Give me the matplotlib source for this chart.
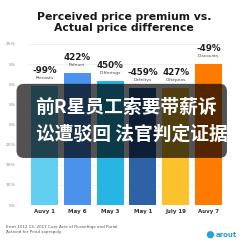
import matplotlib
matplotlib.use("Agg")
import matplotlib.pyplot as plt
from matplotlib.patches import FancyBboxPatch, Circle

# data (heights in gridline units)
categories = ["Auvy 1", "May 6", "May 3", "May 1", "July 19", "Auvy 7"]
heights = [5.9, 6.55, 6.15, 5.8, 5.8, 7.0]
value_labels = ["-99%", "422%", "450%", "-459%", "427%", "-49%"]
sub_labels = ["Precasts", "Pofeurs", "Differings", "Defnitys", "Ciltepeos", "Discounts"]
colors = ["#63cff0", "#4a92ea", "#27b5e3", "#2d62a6", "#fcc22e", "#ff7b00"]
ytick_labels = ["0%", "15%", "10%", "25%", "5%", "5%", "5%", "5%", "15%"]

title = "Perceived price premium vs.\nActual price difference"
overlay_lines = ["前R星员工索要带薪诉", "讼遭驳回 法官判定证据"]
footer = "Errot 1012 13, 2017 Cuer Acts of Rcoseftige and Parial\nActived for Prvid sopropoly"

fig = plt.figure(figsize=(2.43, 2.43), dpi=100)
fig.patch.set_facecolor("white")

ax = fig.add_axes([0.115, 0.156, 0.811, 0.663])
x = range(len(categories))
ax.bar(x, heights, width=0.82, color=colors, zorder=3)
ax.set_xlim(-0.5, len(categories) - 0.5)
ax.set_ylim(0, 8)
ax.set_yticks(range(9))
ax.set_yticklabels(ytick_labels, fontsize=3.2, color="#888888")
ax.set_xticks(list(x))
ax.set_xticklabels(categories, fontsize=4, color="#333333", fontweight="bold")
ax.tick_params(length=0, pad=3)
ax.tick_params(axis="y", pad=9)
ax.grid(axis="y", color="#eeeeee", linewidth=0.6, zorder=0)
for s in ax.spines.values():
    s.set_visible(False)

for i, h in enumerate(heights):
    ax.text(i, h + 0.42, sub_labels[i], ha="center", va="center",
            fontsize=3.2, color="#444444")
    ax.text(i, h + 0.8, value_labels[i], ha="center", va="center",
            fontsize=6.3, fontweight="bold", color="#222222")

fig.text(0.51, 0.908, title, ha="center", va="center", fontsize=7.8,
         fontweight="bold", color="#1a1a1a", linespacing=1.1)

fig.text(0.025, 0.055, footer, ha="left", va="center", fontsize=3,
         color="#555555", linespacing=1.2)

# logo bottom right
fig.patches.append(Circle((0.866, 0.034), 0.015, transform=fig.transFigure,
                          facecolor="#2a9fd8", edgecolor="none"))
fig.text(0.886, 0.034, "arout", ha="left", va="center", fontsize=5,
         fontweight="bold", color="#2a9fd8")

# dark caption overlay
box = FancyBboxPatch((0.068, 0.35), 0.866, 0.305, transform=fig.transFigure,
                     boxstyle="round,pad=0,rounding_size=0.03",
                     facecolor=(0, 0, 0, 0.68), edgecolor="none", zorder=10)
fig.patches.append(box)
cjk = ["Noto Sans CJK SC", "DejaVu Sans"]
fig.text(0.145, 0.56, overlay_lines[0], ha="left", va="center", fontsize=13.5,
         fontweight="bold", color="white", family=cjk, zorder=11)
fig.text(0.15, 0.448, overlay_lines[1], ha="left", va="center", fontsize=13.5,
         fontweight="bold", color="white", family=cjk, zorder=11)

fig.savefig("out.png", dpi=100)
